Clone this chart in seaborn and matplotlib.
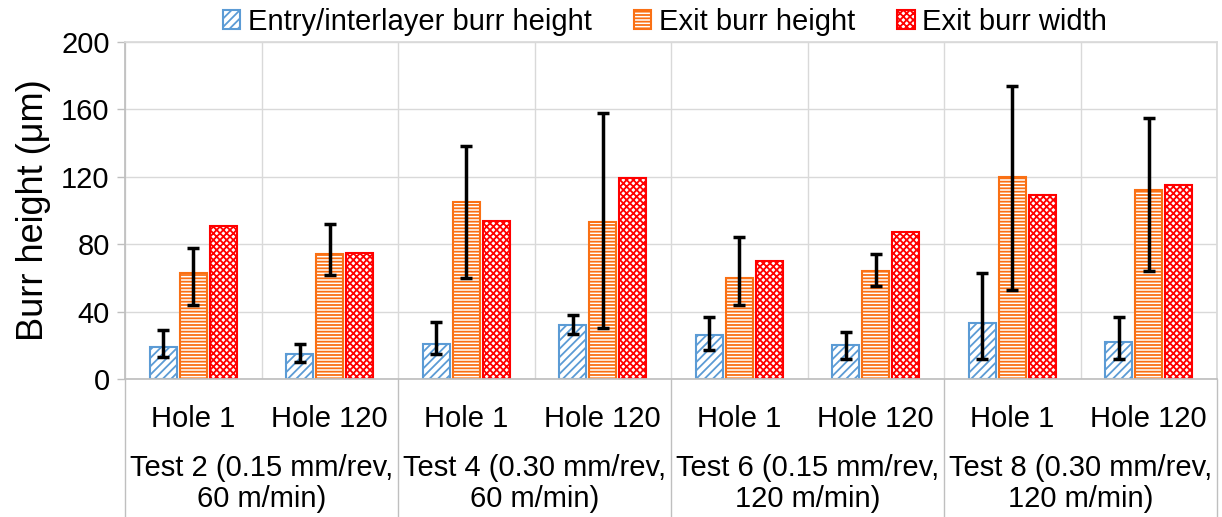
import matplotlib
matplotlib.use("Agg")
import matplotlib.pyplot as plt
import matplotlib.transforms as mtransforms
from matplotlib.patches import Patch
from matplotlib.lines import Line2D
import pandas as pd
import seaborn as sns

# Set style
sns.set_theme(style="whitegrid")
plt.rcParams['font.family'] = ['Liberation Sans', 'DejaVu Sans']
plt.rcParams['hatch.linewidth'] = 1.3
plt.rcParams['text.color'] = 'black'
plt.rcParams['axes.labelcolor'] = 'black'

# Data
tests = ["Test 2 (0.15 mm/rev,\n60 m/min)", "Test 4 (0.30 mm/rev,\n60 m/min)",
         "Test 6 (0.15 mm/rev,\n120 m/min)", "Test 8 (0.30 mm/rev,\n120 m/min)"]
holes = ["Hole 1", "Hole 120"]
series = ["Entry/interlayer burr height", "Exit burr height", "Exit burr width"]

entry_height = [19, 15, 21, 32, 26, 20, 33, 22]
entry_lo = [13, 10, 15, 27, 17, 12, 12, 12]
entry_hi = [29, 21, 34, 38, 37, 28, 63, 37]
exit_height = [63, 74, 105, 93, 60, 64, 120, 112]
exit_lo = [44, 62, 60, 30, 44, 55, 53, 64]
exit_hi = [78, 92, 138, 158, 84, 74, 174, 155]
exit_width = [91, 75, 94, 119, 70, 87, 109, 115]

colors = ['#5B9BD5', '#FA7014', '#FF0000']
hatches = ['////', '-----', 'xxxxx']

slots = [f"{t.split(' (')[0]} {h}" for t in tests for h in holes]
df = pd.DataFrame({
    'slot': slots * 3,
    'series': [s for s in series for _ in slots],
    'value': entry_height + exit_height + exit_width,
})

fig = plt.figure(figsize=(12.22, 5.17), dpi=100)
ax = fig.add_axes([125 / 1222, 1 - 379 / 517, 1092 / 1222, 337 / 517])

sns.barplot(data=df, x='slot', y='value', hue='series', order=slots, hue_order=series,
            palette=colors, width=0.66, gap=0.1, errorbar=None, legend=False, ax=ax)

for cont, col, hat in zip(ax.containers, colors, hatches):
    for p in cont.patches:
        p.set_facecolor('white')
        p.set_edgecolor(col)
        p.set_hatch(hat)
        p.set_linewidth(1.5)

# error bars on entry and exit height
for cont, vals, lo, hi in [(ax.containers[0], entry_height, entry_lo, entry_hi),
                           (ax.containers[1], exit_height, exit_lo, exit_hi)]:
    xs = [p.get_x() + p.get_width() / 2 for p in cont.patches]
    ax.errorbar(xs, vals, yerr=[[v - l for v, l in zip(vals, lo)], [h - v for v, h in zip(vals, hi)]],
                fmt='none', ecolor='black', elinewidth=2.5, capsize=4, capthick=2.5, zorder=5)

ax.set_xlim(-0.5, 7.5)
ax.set_ylim(0, 200)
ax.set_yticks(range(0, 201, 40))
ax.set_xticks(range(8))
ax.set_xticklabels(holes * 4)
ax.set_xticks([i - 0.5 for i in range(9)], minor=True)
ax.set_xlabel('')
ax.set_ylabel('Burr height (μm)', fontsize=26)
ax.yaxis.set_label_coords(-0.068, 0.5)

ax.grid(False)
ax.grid(axis='y', which='major', color='#D9D9D9', linewidth=1)
ax.grid(axis='x', which='minor', color='#D9D9D9', linewidth=1)
ax.set_axisbelow(True)
for side in ['left', 'bottom']:
    ax.spines[side].set_color('#BFBFBF')
for side in ['top', 'right']:
    ax.spines[side].set_color('#D9D9D9')

ax.tick_params(axis='y', left=True, length=6, width=1, color='#BFBFBF',
               labelcolor='black', labelsize=21, pad=5)
ax.tick_params(axis='x', which='both', bottom=False, labelcolor='black', labelsize=21, pad=13)

# group separators and test labels below the axis
trans = mtransforms.blended_transform_factory(ax.transData, ax.transAxes)
for x in [-0.5, 1.5, 3.5, 5.5, 7.5]:
    ax.add_line(Line2D([x, x], [0, -0.42], transform=trans, clip_on=False,
                       color='#BFBFBF', linewidth=1))
for i, t in enumerate(tests):
    ax.text(2 * i + 0.5, -0.31, t, transform=trans, ha='center', va='center',
            fontsize=21, linespacing=1.12)

handles = [Patch(facecolor='white', edgecolor=c, hatch=h, linewidth=1.5)
           for c, h in zip(colors, hatches)]
fig.legend(handles, series, loc='center', bbox_to_anchor=(0.544, 0.958), ncol=3,
           frameon=False, fontsize=21, handlelength=0.6, handleheight=0.6,
           handletextpad=0.25, columnspacing=1.45)

plt.savefig('out.png', dpi=100)
plt.close()
